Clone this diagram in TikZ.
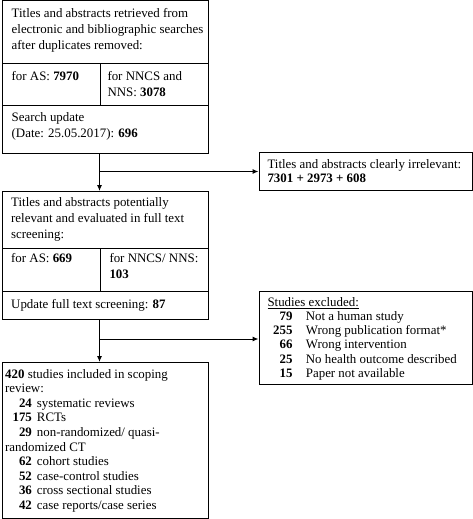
\documentclass[tikz,border=0pt]{standalone}
\usepackage{fontspec}
\setmainfont{Liberation Serif}
\usetikzlibrary{arrows.meta,calc}
\newcommand{\nitem}[3]{\makebox[#1][r]{\textbf{#2}}\hspace*{#3}}
\begin{document}
\begin{tikzpicture}[x=1pt,y=-1pt,
  box/.style={draw, line width=1pt, inner sep=0pt, anchor=north west},
  txt/.style={inner sep=0pt, anchor=north west, align=left},
  fA/.style={font=\fontsize{12.9}{16}\selectfont},
  fB/.style={font=\fontsize{12.9}{14.6}\selectfont},
  fC/.style={font=\fontsize{12.9}{14.2}\selectfont},
  arr/.style={line width=1pt, -{Latex[length=6pt,width=5pt]}},
  ln/.style={line width=1pt}]
\useasboundingbox (0,0) rectangle (473,519);
% boxes
\node[box, minimum width=206pt, minimum height=62.5pt] (A) at (2,0.5) {};
\node[box, minimum width=97.5pt, minimum height=42pt] (B1) at (2,63) {};
\node[box, minimum width=108.5pt, minimum height=42pt] (B2) at (99.5,63) {};
\node[box, minimum width=206pt, minimum height=48pt] (C) at (2,105) {};
\node[box, minimum width=213.5pt, minimum height=38pt] (I) at (258.5,152) {};
\node[box, minimum width=206pt, minimum height=56.5pt] (D) at (2,191) {};
\node[box, minimum width=97.5pt, minimum height=43.5pt] (E1) at (2,247.5) {};
\node[box, minimum width=108.5pt, minimum height=43.5pt] (E2) at (99.5,247.5) {};
\node[box, minimum width=206pt, minimum height=27.5pt] (F) at (2,291) {};
\node[box, minimum width=213.5pt, minimum height=93pt] (X) at (258.5,291) {};
\node[box, minimum width=205.5pt, minimum height=156pt] (G) at (2,362) {};
% texts
\node[txt, fA] (tA) at (11.5,8.5) {Titles and abstracts retrieved from\\electronic and bibliographic searches\\after duplicates removed:};
\node[txt, fA] (tB1) at (11.5,71.2) {for AS: \textbf{7970}};
\node[txt, fA] (tB2) at (107.3,71.2) {for NNCS and\\NNS: \textbf{3078}};
\node[txt, fA] (tC) at (11.5,112.2) {Search update\\(Date: 25.05.2017): \textbf{696}};
\node[txt, fC] (tI) at (267.3,159.5) {Titles and abstracts clearly irrelevant:\\\textbf{7301 + 2973 + 608}};
\node[txt, fA] (tD) at (11,197.2) {Titles and abstracts potentially\\relevant and evaluated in full text\\screening:};
\node[txt, fA] (tE1) at (11,252.9) {for AS: \textbf{669}};
\node[txt, fA] (tE2) at (109.3,252.9) {for NNCS/ NNS:\\\textbf{103}};
\node[txt, fA] (tF) at (11,299.5) {Update full text screening: \textbf{87}};
\node[txt, fC] (tX) at (267.3,297.2) {\underline{Studies excluded:}\\
  \nitem{25pt}{79}{13.4pt}Not a human study\\
  \nitem{25pt}{255}{13.4pt}Wrong publication format*\\
  \nitem{25pt}{66}{13.4pt}Wrong intervention\\
  \nitem{25pt}{25}{13.4pt}No health outcome described\\
  \nitem{25pt}{15}{13.4pt}Paper not available};
\node[txt, fB] (tG) at (5,368.9) {\textbf{420} studies included in scoping\\review:\\
  \nitem{26.7pt}{24}{5pt}systematic reviews\\
  \nitem{26.7pt}{175}{5pt}RCTs\\
  \nitem{26.7pt}{29}{5pt}non-randomized/ quasi-\\randomized CT\\
  \nitem{26.7pt}{62}{5pt}cohort studies\\
  \nitem{26.7pt}{52}{5pt}case-control studies\\
  \nitem{26.7pt}{36}{5pt}cross sectional studies\\
  \nitem{26.7pt}{42}{5pt}case reports/case series};
% connectors
\coordinate (j1) at (99.5,171.5);
\coordinate (j2) at (99.5,339);
\draw[ln] (C.south -| j1) -- (j1);
\draw[arr] (j1) -- (D.north -| j1);
\draw[arr] (j1) -- (j1 -| I.west);
\draw[ln] (F.south -| j2) -- (j2);
\draw[arr] (j2) -- (G.north -| j2);
\draw[arr] (j2) -- (j2 -| X.west);
\end{tikzpicture}
\end{document}
